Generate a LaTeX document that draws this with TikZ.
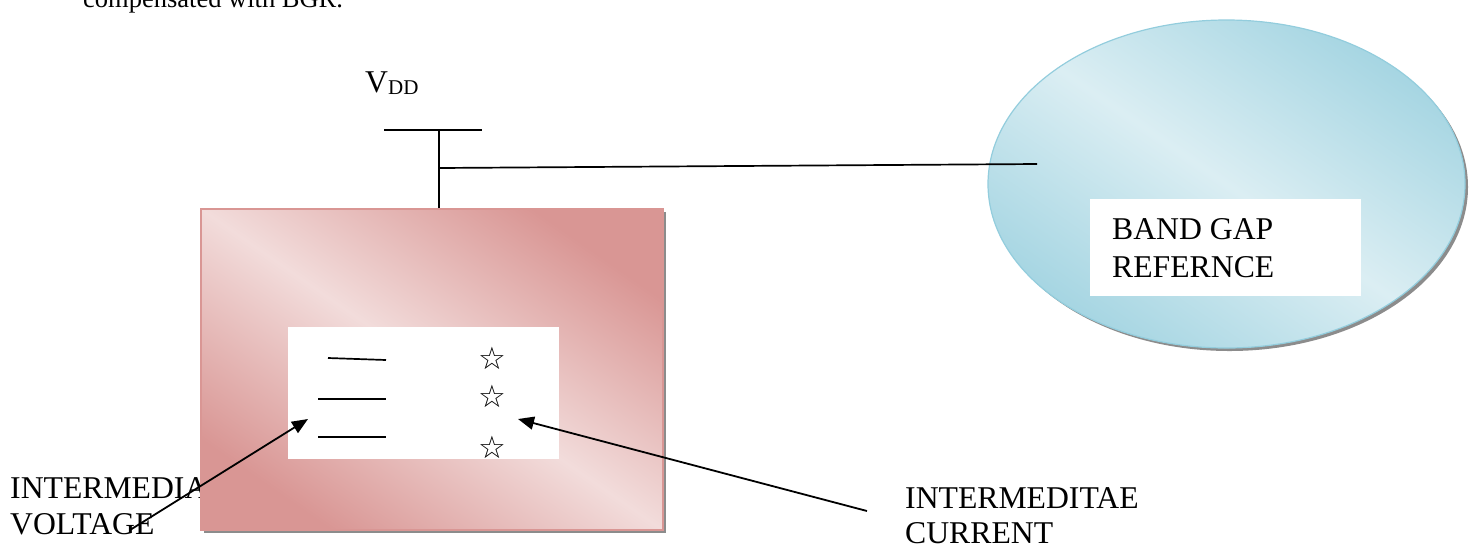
\documentclass[tikz,border=0pt]{standalone}
\usepackage{fontspec}
\setmainfont{Liberation Serif}
\newfontfamily\symfont{DejaVu Sans}
\usetikzlibrary{shapes.geometric,arrows.meta,shadows}

\definecolor{rosedark}{HTML}{D99694}
\definecolor{roselight}{HTML}{F2DCDB}
\definecolor{bluedark}{HTML}{A5D5E2}
\definecolor{bluelight}{HTML}{DBEEF3}
\definecolor{blueedge}{HTML}{93CDDD}
\definecolor{shadowgray}{HTML}{8C8C8C}

\begin{document}
\begin{tikzpicture}[x=1pt,y=-1pt,
  txt/.style={font=\fontsize{31.7}{36}\selectfont, inner sep=0pt, anchor=base west},
  wire/.style={line width=1.7pt},
  ptr/.style={line width=1.8pt, -{Triangle[length=16pt,width=13pt]}},
  boxshadow/.style={general shadow={fill=shadowgray, shadow xshift=3pt, shadow yshift=-3pt}},
  panel/.style={rectangle, inner sep=0pt, draw=rosedark, line width=1.2pt,
    left color=rosedark, right color=rosedark, middle color=roselight,
    shading angle=-34.8, boxshadow},
  blob/.style={ellipse, inner sep=0pt, draw=blueedge, line width=1.2pt,
    left color=bluedark, right color=bluedark, middle color=bluelight,
    shading angle=-34.5, boxshadow},
  card/.style={rectangle, fill=white, inner sep=0pt},
  starmark/.style={font=\symfont\bfseries\fontsize{31}{31}\selectfont, inner sep=0pt}
]
\useasboundingbox (0,0) rectangle (1474,550);
\clip (0,0) rectangle (1474,550);

% caption line running in from above
\node[anchor=base west, inner sep=0pt, font=\fontsize{26.5}{30}\selectfont] (cap) at (83,7) {compensated with BGR.};

% supply rail
\node[anchor=base west, inner sep=0pt, font=\fontsize{31.7}{36}\selectfont] (vdd) at (365,92)
  {V\raisebox{-2pt}{\fontsize{21}{21}\selectfont DD}};
\coordinate (railL) at (384,130);
\coordinate (railR) at (482,130);
\coordinate (railT) at (439,130);
\coordinate (tap) at (439,168);
\coordinate (bgin) at (1037,164);

% side labels
\node[txt] (lv1) at (10,498) {INTERMEDIA};
\node[txt] (lv2) at (10,534) {VOLTAGE};
\node[txt] (lc1) at (905,508) {INTERMEDITAE};
\node[txt] (lc2) at (905,543) {CURRENT};

% main block
\node[panel, minimum width=462pt, minimum height=321pt] (box) at (432,369.5) {};
\node[card, minimum width=271pt, minimum height=132pt] (inbox) at (423.5,393) {};

% band gap reference
\node[blob, minimum width=477pt, minimum height=328pt] (bg) at (1226.5,184) {};
\node[card, minimum width=271pt, minimum height=97pt] (bgbox) at (1225.5,247.5) {};
\node[txt] (bg1) at (1112,239) {BAND GAP};
\node[txt] (bg2) at (1112,277) {REFERNCE};

% wiring
\draw[wire] (railL) -- (railR);
\draw[wire] (railT) -- (railT |- box.north);
\draw[wire] (tap) -- (bgin);

% contents of the inner card
\draw[wire] (328,358) -- (386,360);
\draw[wire] (318,399) -- (386,399);
\draw[wire] (318,437) -- (386,437);
\node[starmark] (s1) at (492,358) {☆};
\node[starmark] (s2) at (492,396) {☆};
\node[starmark] (s3) at (492,447) {☆};

% pointers
\coordinate (vsrc) at (130,530);
\coordinate (vtip) at (308,419);
\coordinate (csrc) at (867,511);
\coordinate (ctip) at (518,419);
\draw[ptr] (vsrc) -- (vtip);
\draw[ptr] (csrc) -- (ctip);
\end{tikzpicture}
\end{document}
